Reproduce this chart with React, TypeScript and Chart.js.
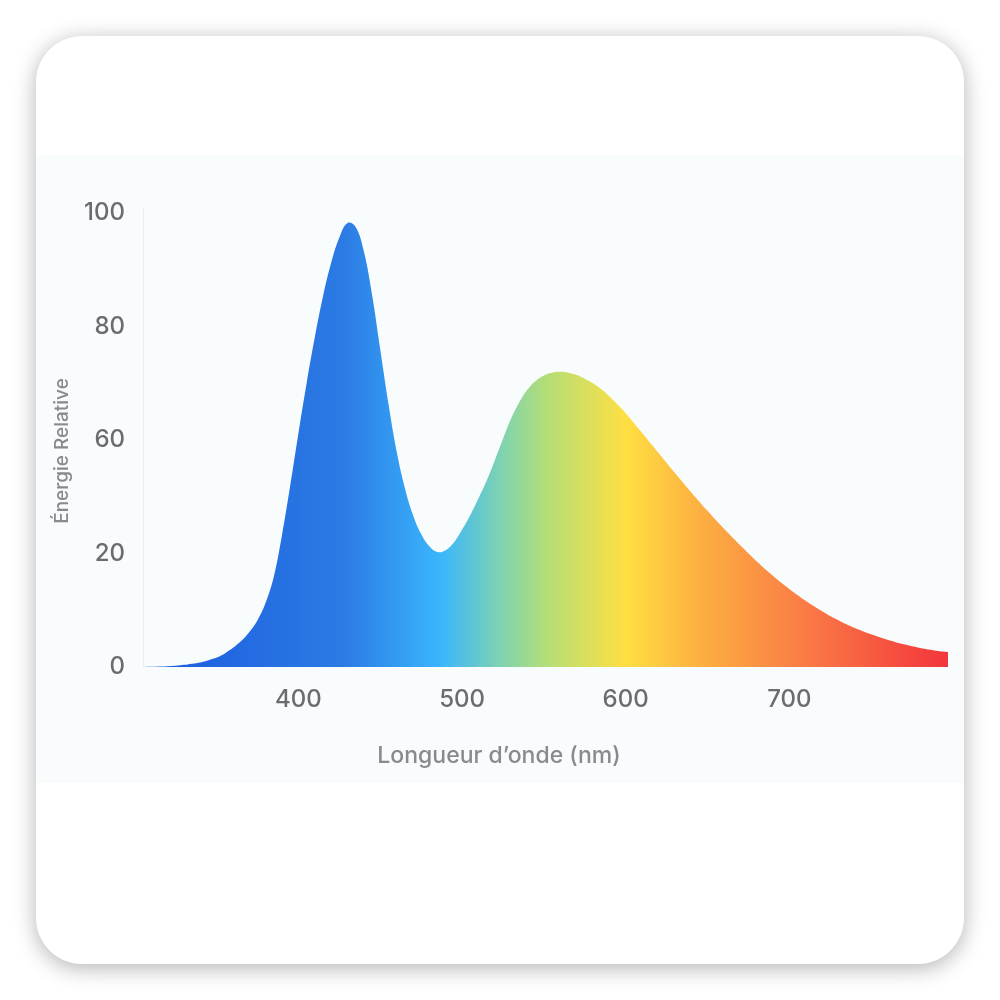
import React, { useEffect, useRef } from "react";
import { Chart, registerables } from "chart.js";

Chart.register(...registerables);

// Wavelength (nm)
const wavelengths = [
  305, 315, 325, 335, 345, 355, 365, 370,
  375, 380, 385, 390, 395, 400, 405, 410, 415, 420, 425, 430, 435, 440, 445, 450,
  455, 460, 465, 470, 475, 480, 485, 490, 495, 500, 505, 510, 515, 520, 525, 530,
  535, 540, 545, 550, 555, 560, 565, 570, 575, 580, 585, 590, 595, 600,
  610, 620, 630, 640, 650, 660, 670, 680, 690, 700, 710, 720, 730, 740, 750, 760,
  770, 780, 790, 797,
];
// Relative energy (in axis position units)
const energy = [
  0, 0.1, 0.3, 0.7, 1.5, 3.0, 5.7, 7.7,
  10.3, 14.2, 20, 29.2, 40, 51.5, 62.5, 72.6, 81.6, 89, 94.6, 97.8, 96.9, 91.5, 82, 70,
  58, 47.5, 39.5, 33.5, 29.3, 26.6, 25.3, 25.7, 27.4, 30.2, 33.4, 37.1, 41, 45.5, 50.2, 54.7,
  58.3, 61.1, 63, 64.2, 64.8, 65, 64.8, 64.3, 63.5, 62.5, 61.2, 59.6, 57.8, 55.9,
  51.6, 47.2, 42.8, 38.5, 34.4, 30.5, 26.8, 23.3, 20.1, 17.2, 14.6, 12.3, 10.3, 8.6, 7.2, 6.0,
  5.0, 4.2, 3.6, 3.3,
];
const xTickValues = [400, 500, 600, 700];
const yTickPositions = [0, 25, 50, 75, 100];
const yTickLabels = ["0", "20", "60", "80", "100"];
const xTitle = "Longueur d\u2019onde (nm)";
const yTitle = "Énergie Relative";

const gradientStops: [number, string][] = [
  [0, "#1a5bde"],
  [0.25, "#2c7be4"],
  [0.37, "#3ab6fc"],
  [0.445, "#7ed3b0"],
  [0.5, "#b3de78"],
  [0.6, "#ffdf42"],
  [0.695, "#fcae41"],
  [0.82, "#fa7c45"],
  [1, "#f3353c"],
];

const titlesPlugin = {
  id: "titlesPlugin",
  afterDraw(chart: any) {
    const ctx = chart.ctx;
    ctx.save();
    ctx.fillStyle = "#8a8a8e";
    ctx.textAlign = "center";
    ctx.textBaseline = "middle";
    ctx.font = "500 23px Inter";
    ctx.fillText(xTitle, 499, 756);
    ctx.translate(62, 451);
    ctx.rotate(-Math.PI / 2);
    ctx.font = "500 19px Inter";
    ctx.fillText(yTitle, 0, 0);
    ctx.restore();
  },
};

export default function App() {
  const ref = useRef<HTMLCanvasElement | null>(null);

  useEffect(() => {
    if (!ref.current) return;
    const chart = new Chart(ref.current, {
      type: "line",
      data: {
        datasets: [
          {
            data: wavelengths.map((w, i) => ({ x: w, y: energy[i] })),
            fill: "origin",
            borderWidth: 0,
            pointRadius: 0,
            tension: 0.4,
            backgroundColor: (ctx: any) => {
              const area = ctx.chart.chartArea;
              if (!area) return "#3ab6fc";
              const g = ctx.chart.ctx.createLinearGradient(area.left, 0, area.right, 0);
              gradientStops.forEach(([o, c]) => g.addColorStop(o, c));
              return g;
            },
            borderColor: "rgba(0,0,0,0)",
          },
        ],
      },
      options: {
        responsive: false,
        animation: false,
        layout: { padding: { left: 40, right: 52, top: 207, bottom: 223 } },
        plugins: { legend: { display: false }, tooltip: { enabled: false } },
        scales: {
          x: {
            type: "linear",
            min: 305,
            max: 797,
            grid: { display: false, drawTicks: false },
            border: { display: false },
            afterFit: (s: any) => {
              s.height = 110;
            },
            afterBuildTicks: (s: any) => {
              s.ticks = xTickValues.map((v) => ({ value: v }));
            },
            ticks: {
              padding: 18,
              color: "#6b6b70",
              font: { family: "Inter", size: 24, weight: "500" },
              callback: (v: any) => String(v),
            },
            title: { display: false },
          },
          y: {
            type: "linear",
            min: 0,
            max: 101.3,
            grid: { display: false, drawTicks: false },
            border: { display: true, color: "#e9eff3", width: 1 },
            afterFit: (s: any) => {
              s.width = 103;
            },
            afterBuildTicks: (s: any) => {
              s.ticks = yTickPositions.map((v) => ({ value: v }));
            },
            ticks: {
              padding: 18,
              color: "#6b6b70",
              font: { family: "Inter", size: 24, weight: "500" },
              callback: (v: any) => {
                const i = yTickPositions.indexOf(Number(v));
                return i >= 0 ? yTickLabels[i] : "";
              },
            },
            title: { display: false },
          },
        },
      },
      plugins: [titlesPlugin],
    } as any);
    return () => chart.destroy();
  }, []);

  return (
    <div
      style={{
        position: "fixed",
        left: 0,
        top: 0,
        width: 1000,
        height: 1000,
        background: "#ffffff",
        overflow: "hidden",
      }}
    >
      <div
        style={{
          position: "absolute",
          left: 36,
          top: 36,
          width: 928,
          height: 928,
          borderRadius: 46,
          background: "#ffffff",
          boxShadow: "0 4px 22px rgba(0,0,0,0.30)",
          overflow: "hidden",
        }}
      >
        <div
          style={{
            position: "absolute",
            left: 0,
            top: 119,
            width: 928,
            height: 628,
            background: "#f9fcfd",
          }}
        />
      </div>
      <canvas
        ref={ref}
        width={1000}
        height={1000}
        style={{ position: "absolute", left: 0, top: 0, width: 1000, height: 1000 }}
      />
    </div>
  );
}
